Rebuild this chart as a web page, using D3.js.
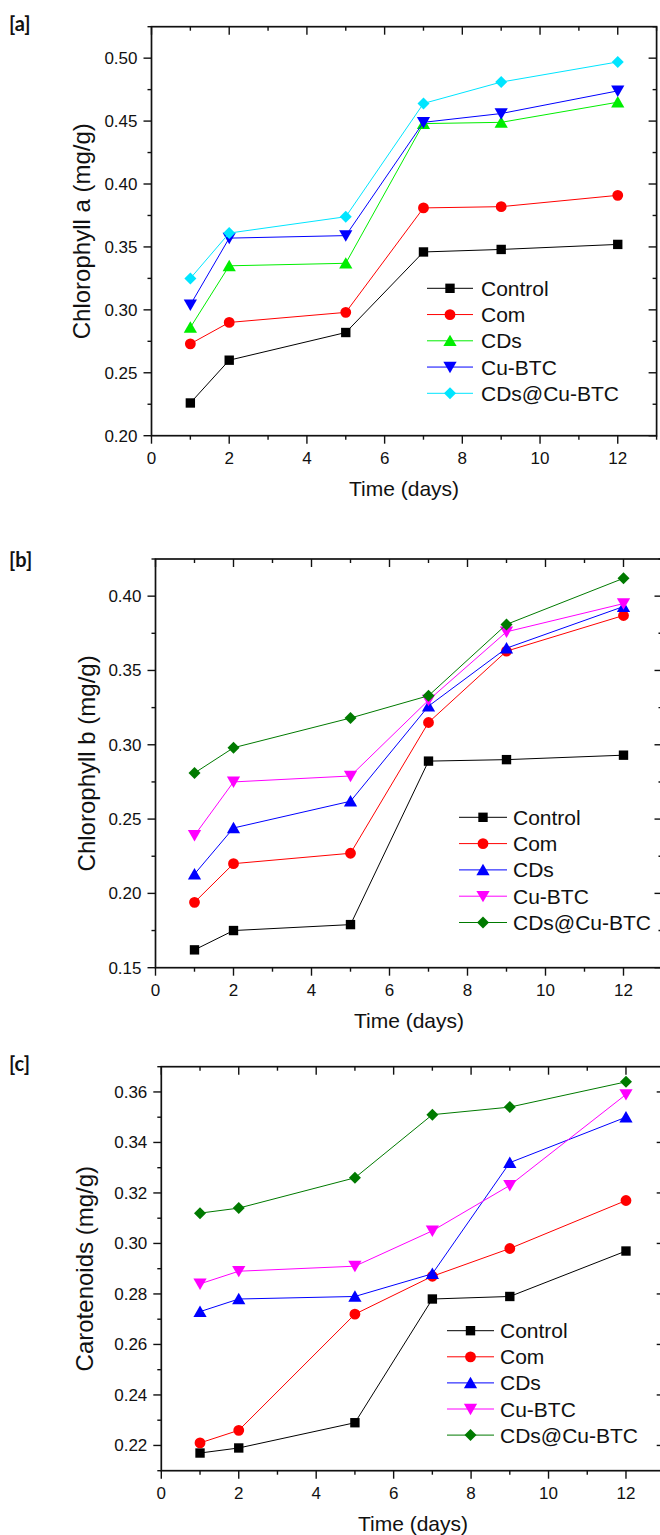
<!DOCTYPE html>
<html>
<head>
<meta charset="utf-8">
<script src="https://cdn.jsdelivr.net/npm/d3@7"></script>
<style>
body { margin: 0; background: #fff; }
svg text { font-family: "Liberation Sans", Arial, sans-serif; fill: #111; }
.tag { font-family: Lato, "Open Sans", sans-serif; font-weight: 700; font-size: 20px; }
</style>
</head>
<body>
<svg id="fig" width="660" height="1535"></svg>
<script>
// ---- data ----
const days = [1, 2, 5, 7, 9, 12];
const xTicks = [0, 2, 4, 6, 8, 10, 12];
const seriesNames = ["Control", "Com", "CDs", "Cu-BTC", "CDs@Cu-BTC"];

// [a] chlorophyll a
const chlaValues = [
    [0.226, 0.260, 0.282, 0.346, 0.348, 0.352],
    [0.273, 0.290, 0.298, 0.381, 0.382, 0.391],
    [0.286, 0.335, 0.337, 0.448, 0.449, 0.465],
    [0.304, 0.357, 0.359, 0.449, 0.456, 0.474],
    [0.325, 0.361, 0.374, 0.464, 0.481, 0.497]
];
const chlaTicks = [0.20, 0.25, 0.30, 0.35, 0.40, 0.45, 0.50];

// [b] chlorophyll b
const chlbValues = [
    [0.162, 0.175, 0.179, 0.289, 0.290, 0.293],
    [0.194, 0.220, 0.227, 0.315, 0.363, 0.387],
    [0.213, 0.244, 0.262, 0.326, 0.365, 0.393],
    [0.239, 0.275, 0.279, 0.330, 0.376, 0.395],
    [0.281, 0.298, 0.318, 0.333, 0.381, 0.412]
];
const chlbTicks = [0.15, 0.20, 0.25, 0.30, 0.35, 0.40];

// [c] carotenoids
const carValues = [
    [0.217, 0.219, 0.229, 0.278, 0.279, 0.297],
    [0.221, 0.226, 0.272, 0.287, 0.298, 0.317],
    [0.273, 0.278, 0.279, 0.288, 0.332, 0.350],
    [0.284, 0.289, 0.291, 0.305, 0.323, 0.359],
    [0.312, 0.314, 0.326, 0.351, 0.354, 0.364]
];
const carTicks = [0.22, 0.24, 0.26, 0.28, 0.30, 0.32, 0.34, 0.36];

const colorsA = ["#000000", "#ff0000", "#00ee00", "#0000ff", "#00e5ff"];
const colorsBC = ["#000000", "#ff0000", "#0000ff", "#ff00ff", "#007a00"];

// marker shape per series (same order in all panels)
const shapes = ["square", "circle", "up", "down", "diamond"];

// ---- layout ----
const panels = [
    { tag: "[a]", tagY: 31, yLabel: "Chlorophyll a (mg/g)", values: chlaValues, colors: colorsA,
      yDomain: [0.20, 0.525], yTicks: chlaTicks, yMinor: 0.025,
      xr: [151.5, 656.6], yr: [435.7, 26.7], titleX: 82,
      legend: { x1: 427, x2: 473, tx: 481, y0: 288.3, dy: 26.25 } },
    { tag: "[b]", tagY: 567, yLabel: "Chlorophyll b (mg/g)", values: chlbValues, colors: colorsBC,
      yDomain: [0.15, 0.425], yTicks: chlbTicks, yMinor: 0.025,
      xr: [155.5, 662.5], yr: [967.7, 559], titleX: 87,
      legend: { x1: 459, x2: 507, tx: 513, y0: 817.3, dy: 26.3 } },
    { tag: "[c]", tagY: 1071, yLabel: "Carotenoids (mg/g)", values: carValues, colors: colorsBC,
      yDomain: [0.21, 0.37], yTicks: carTicks, yMinor: 0.01,
      xr: [161.3, 664.7], yr: [1470.7, 1066.7], titleX: 85,
      legend: { x1: 447, x2: 494, tx: 500, y0: 1330.7, dy: 26.1 } }
];

const svg = d3.select("#fig");

function marker(g, shape, color, x, y) {
    let sym;
    if (shape === "square") sym = d3.symbol().type(d3.symbolSquare).size(88);
    else if (shape === "circle") sym = d3.symbol().type(d3.symbolCircle).size(92);
    else if (shape === "diamond") sym = d3.symbol().type(d3.symbolSquare).size(72);
    else sym = d3.symbol().type(d3.symbolTriangle).size(76);
    let rot = shape === "down" ? 180 : shape === "diamond" ? 45 : 0;
    let dy = shape === "up" ? 1.5 : shape === "down" ? -1.5 : 0;
    g.append("path")
        .attr("d", sym())
        .attr("transform", `translate(${x},${y + dy}) rotate(${rot})`)
        .attr("fill", color);
}

panels.forEach(p => {
    const x = d3.scaleLinear().domain([0, 13]).range(p.xr);
    const y = d3.scaleLinear().domain(p.yDomain).range(p.yr);
    const g = svg.append("g");
    const [xl, xrr] = p.xr;
    const [yb, yt] = p.yr;

    // series lines + markers
    p.values.forEach((vals, si) => {
        const pts = days.map((d, i) => [x(d), y(vals[i])]);
        g.append("path")
            .attr("d", d3.line()(pts))
            .attr("fill", "none")
            .attr("stroke", p.colors[si])
            .attr("stroke-width", 1);
        pts.forEach(pt => marker(g, shapes[si], p.colors[si], pt[0], pt[1]));
    });

    // frame
    g.append("rect")
        .attr("x", xl).attr("y", yt)
        .attr("width", xrr - xl).attr("height", yb - yt)
        .attr("fill", "none").attr("stroke", "#111").attr("stroke-width", 1.7);

    // x ticks (outward at bottom, inward at top)
    d3.range(0, 14, 1).forEach(v => {
        const len = v % 2 === 0 ? 8 : 4;
        g.append("line").attr("x1", x(v)).attr("x2", x(v))
            .attr("y1", yb).attr("y2", yb + len)
            .attr("stroke", "#111").attr("stroke-width", 1.4);
        g.append("line").attr("x1", x(v)).attr("x2", x(v))
            .attr("y1", yt).attr("y2", yt + len)
            .attr("stroke", "#111").attr("stroke-width", 1.4);
    });
    xTicks.forEach(v => {
        g.append("text").attr("x", x(v)).attr("y", yb + 28.5)
            .attr("text-anchor", "middle").attr("font-size", 17).text(v);
    });

    // y ticks (outward at left, inward at right)
    d3.range(p.yDomain[0], p.yDomain[1] + 1e-9, p.yMinor).forEach(v => {
        const major = p.yTicks.some(t => Math.abs(t - v) < 1e-6);
        const len = major ? 8 : 4;
        g.append("line").attr("x1", xl - len).attr("x2", xl)
            .attr("y1", y(v)).attr("y2", y(v))
            .attr("stroke", "#111").attr("stroke-width", 1.4);
        g.append("line").attr("x1", xrr - len).attr("x2", xrr)
            .attr("y1", y(v)).attr("y2", y(v))
            .attr("stroke", "#111").attr("stroke-width", 1.4);
    });
    p.yTicks.forEach(v => {
        g.append("text").attr("x", xl - 14).attr("y", y(v) + 6)
            .attr("text-anchor", "end").attr("font-size", 17).text(d3.format(".2f")(v));
    });

    // axis titles
    g.append("text").attr("x", (xl + xrr) / 2).attr("y", yb + 60)
        .attr("text-anchor", "middle").attr("font-size", 21).text("Time (days)");
    g.append("text")
        .attr("transform", `translate(${p.titleX + 8},${(yb + yt) / 2}) rotate(-90)`)
        .attr("text-anchor", "middle").attr("font-size", 24).text(p.yLabel);

    // panel tag
    svg.append("text").attr("class", "tag").attr("x", 9).attr("y", p.tagY).text(p.tag);

    // legend
    const L = p.legend;
    seriesNames.forEach((name, si) => {
        const ly = L.y0 + si * L.dy;
        g.append("line").attr("x1", L.x1).attr("x2", L.x2)
            .attr("y1", ly).attr("y2", ly)
            .attr("stroke", p.colors[si]).attr("stroke-width", 1);
        marker(g, shapes[si], p.colors[si], (L.x1 + L.x2) / 2, ly);
        g.append("text").attr("x", L.tx).attr("y", ly + 7.5)
            .attr("font-size", 21).text(name);
    });
});
</script>
</body>
</html>
